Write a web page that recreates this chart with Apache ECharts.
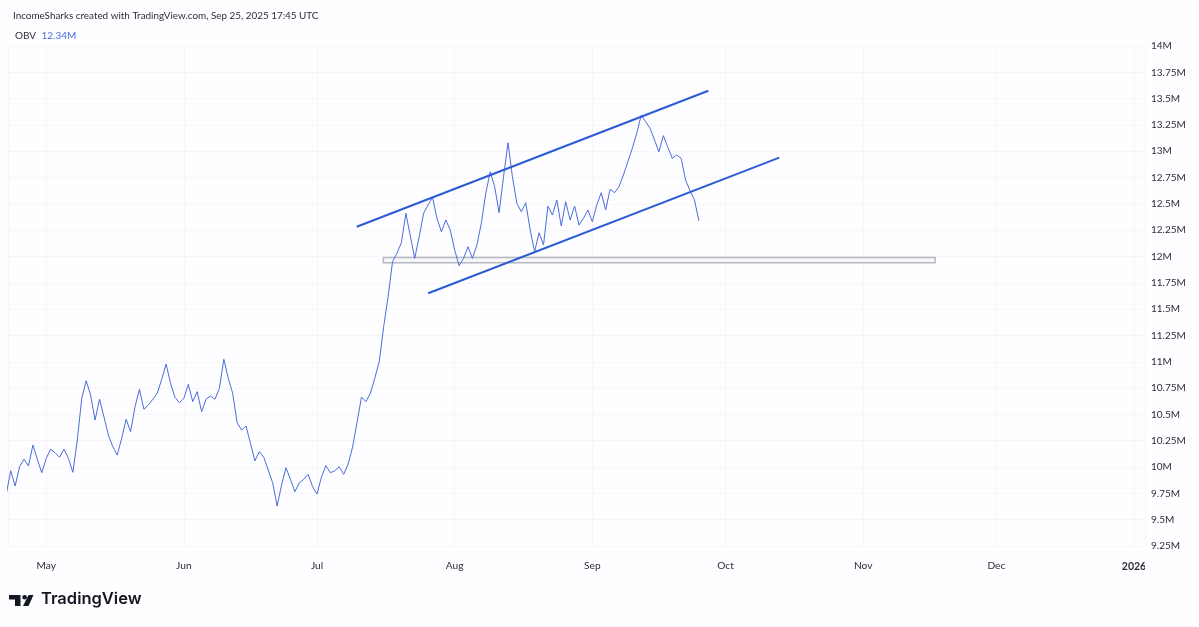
<!DOCTYPE html>
<html><head><meta charset="utf-8">
<script src="https://cdn.jsdelivr.net/npm/echarts@6/dist/echarts.min.js"></script>
<style>html,body{margin:0;padding:0;background:#fefdff}#c{width:1199px;height:627px}</style>
</head><body><div id="c"></div><script>
// ---------- data ----------
const firstDate = [2025, 3, 22]; // Apr 22 2025, one value per calendar day
const obvValues = [
  9.74,
  9.965, 9.82, 10.003, 10.074, 10.01, 10.209, 10.074, 9.946,
  10.083, 10.169, 10.136, 10.093, 10.169, 10.083, 9.95, 10.257, 10.653, 10.82,
  10.684, 10.447, 10.644, 10.478, 10.304, 10.193, 10.114, 10.273, 10.454, 10.336,
  10.573, 10.739, 10.548, 10.589, 10.644, 10.70, 10.833, 10.979, 10.796, 10.663, 10.611,
  10.653, 10.786, 10.621, 10.716, 10.526, 10.644, 10.675, 10.644, 10.748, 11.024,
  10.843, 10.70, 10.421, 10.352, 10.39, 10.226, 10.06, 10.146, 10.093, 9.972,
  9.851, 9.63, 9.829, 9.994, 9.884, 9.766, 9.851, 9.884, 9.931, 9.813,
  9.744, 9.908, 10.013, 9.946, 9.965, 10.003, 9.931, 10.029, 10.19, 10.423,
  10.665, 10.621, 10.70, 10.843, 11.001, 11.333, 11.618, 11.951, 12.031, 12.133,
  12.411, 12.195, 11.983, 12.188, 12.411, 12.489, 12.563, 12.363, 12.236, 12.347, 12.252,
  12.062, 11.913, 11.983, 12.093, 11.983, 12.109, 12.316, 12.601, 12.806, 12.663,
  12.416, 12.758, 13.081, 12.758, 12.506, 12.426, 12.511, 12.252, 12.046, 12.226,
  12.109, 12.48, 12.394, 12.537, 12.29, 12.521, 12.347, 12.48, 12.299, 12.363, 12.442,
  12.331, 12.489, 12.606, 12.442, 12.639, 12.606, 12.663, 12.774, 12.901, 13.028,
  13.171, 13.342, 13.281, 13.218, 13.107, 12.996, 13.148, 13.038, 12.933, 12.964,
  12.933, 12.727, 12.625, 12.537, 12.34
];
const upperChannel = [['2025-07-09 22:20', 12.283], ['2025-09-27 03:00', 13.575]];
const lowerChannel = [['2025-07-26 01:00', 11.651], ['2025-10-13 02:30', 12.939]];
const zoneBox = [['2025-07-15 22:00', 11.99], ['2025-11-17 05:00', 11.94]];
const monthLabels = ['Jan','Feb','Mar','Apr','May','Jun','Jul','Aug','Sep','Oct','Nov','Dec'];
const yRange = { min: 9.25, max: 14, step: 0.25 };
const headerText = 'IncomeSharks created with TradingView.com, Sep 25, 2025 17:45 UTC';
const seriesName = 'OBV';

// ---------- layout ----------
const DAY = 86400000;
const FONT = 'Lato, "Open Sans", sans-serif';
const gridLeft = 8, gridRight = 54, gridTop = 46, gridBottom = 81;
const plotW = 1199 - gridLeft - gridRight;
const pxPerDay = 4.44;
const xMin = new Date(2025, 3, 23).getTime() - (2.7 / pxPerDay) * DAY;
const xMax = xMin + (plotW / pxPerDay) * DAY;
const BG = '#fefdff';
const lineColor = '#4a6ddb';
const drawColor = '#2b5bd7';
const gridColor = '#f6f6f9';
const textColor = '#2a2e39';

const obvData = obvValues.map((v, i) => [new Date(firstDate[0], firstDate[1], firstDate[2] + i).getTime(), v]);
const lastVal = obvValues[obvValues.length - 1];

const chart = echarts.init(document.getElementById('c'), null, { renderer: 'canvas' });
chart.setOption({
  backgroundColor: BG,
  animation: false,
  title: {
    text: headerText, left: 8, top: 6,
    textStyle: { fontFamily: FONT, fontSize: 9.9, fontWeight: 'normal', color: textColor }
  },
  grid: { left: gridLeft, right: gridRight, top: gridTop, bottom: gridBottom, containLabel: false },
  xAxis: {
    type: 'time', min: xMin, max: xMax,
    minInterval: 28 * DAY, maxInterval: 32 * DAY,
    axisLine: { show: false }, axisTick: { show: false },
    splitLine: { show: true, lineStyle: { color: gridColor, width: 1 } },
    axisLabel: {
      margin: 15, color: textColor, fontFamily: FONT, fontSize: 10.2,
      formatter: function (val) {
        const d = new Date(val);
        return d.getMonth() === 0 ? '{b|' + d.getFullYear() + '}' : monthLabels[d.getMonth()];
      },
      rich: { b: { fontWeight: 'bold', fontFamily: FONT, fontSize: 10.5, color: textColor } }
    }
  },
  yAxis: {
    type: 'value', position: 'right', min: yRange.min, max: yRange.max, interval: yRange.step,
    axisLine: { show: false }, axisTick: { show: false },
    splitLine: { show: true, lineStyle: { color: gridColor, width: 1 } },
    axisLabel: {
      margin: 6, color: textColor, fontFamily: FONT, fontSize: 10,
      formatter: v => parseFloat(v.toFixed(2)) + 'M'
    }
  },
  series: [
    {
      name: 'zone', type: 'line', data: [], silent: true,
      markArea: {
        silent: true,
        itemStyle: { color: 'rgba(242,242,244,0.6)', borderColor: '#b7b9c0', borderWidth: 1.5 },
        data: [[{ xAxis: zoneBox[0][0], yAxis: zoneBox[0][1] }, { xAxis: zoneBox[1][0], yAxis: zoneBox[1][1] }]]
      }
    },
    {
      name: seriesName, type: 'line', data: obvData, showSymbol: false, z: 3,
      lineStyle: { color: lineColor, width: 1 }, itemStyle: { color: lineColor }
    },
    {
      name: 'upper', type: 'line', data: upperChannel, showSymbol: false, z: 4,
      lineStyle: { color: drawColor, width: 2 }
    },
    {
      name: 'lower', type: 'line', data: lowerChannel, showSymbol: false, z: 4,
      lineStyle: { color: drawColor, width: 2 }
    }
  ],
  graphic: [
    {
      type: 'text', left: 15, top: 30, z: 10,
      style: {
        text: '{a|' + seriesName + '} {b|' + lastVal.toFixed(2) + 'M}',
        rich: {
          a: { fontFamily: FONT, fontSize: 10, fill: textColor },
          b: { fontFamily: FONT, fontSize: 10, fill: lineColor, padding: [0, 0, 0, 2] }
        }
      }
    },
    { type: 'rect', z: 100, shape: { x: 1145, y: 556, width: 54, height: 30 }, style: { fill: BG } },
    {
      type: 'group', left: 9, top: 595, z: 10,
      children: [
        { type: 'polygon', shape: { points: [[0,0],[11.5,0],[11.5,11],[6,11],[6,4.5],[0,4.5]] }, style: { fill: '#131722' } },
        { type: 'circle', shape: { cx: 15.6, cy: 2.3, r: 2.3 }, style: { fill: '#131722' } },
        { type: 'polygon', shape: { points: [[19.5,0],[24.5,0],[19.5,11],[14,11]] }, style: { fill: '#131722' } }
      ]
    },
    {
      type: 'text', left: 41, top: 591, z: 10,
      style: { text: 'TradingView', fontFamily: 'Inter, Lato, sans-serif', fontSize: 16.5, fontWeight: 600, fill: '#131722' }
    }
  ]
});
</script></body></html>
